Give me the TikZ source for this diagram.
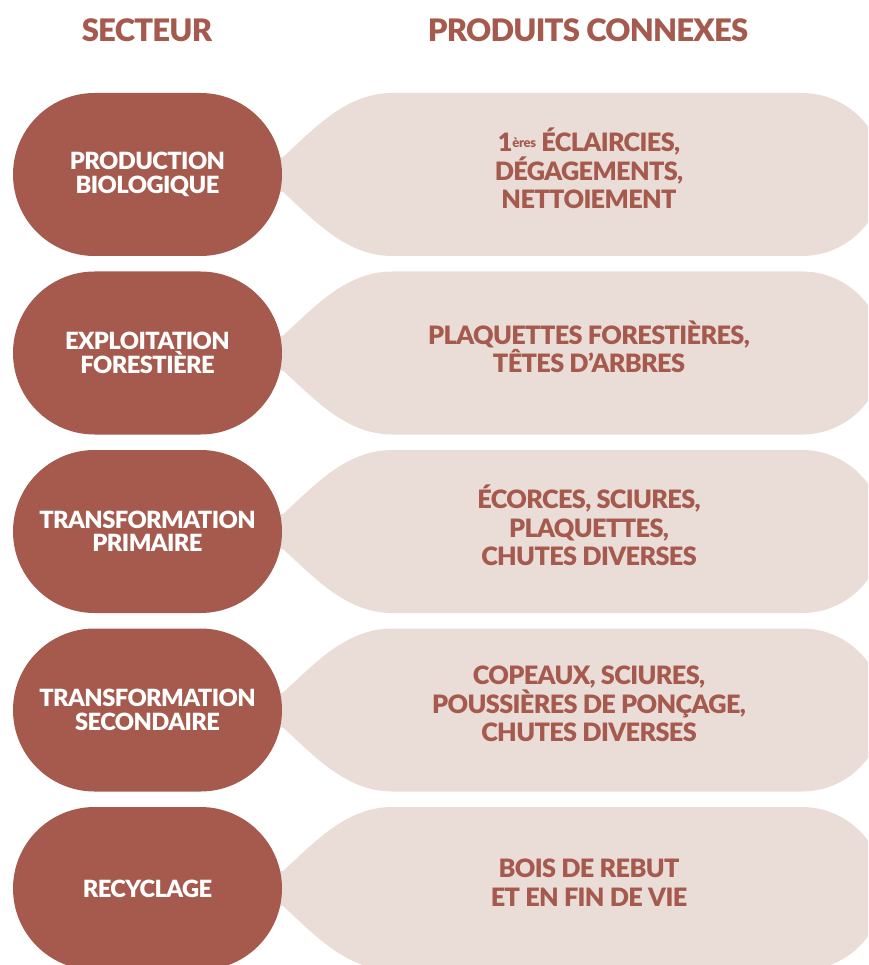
\documentclass[tikz,border=0pt]{standalone}
\usepackage{fontspec}
\setmainfont{Lato}[LetterSpace=-2.5,BoldFont={Lato Black}]
\definecolor{dark}{HTML}{A55A4D}
\definecolor{light}{HTML}{EADDD7}
\tikzset{
  pill/.style={fill=dark, text=white, minimum width=269pt, minimum height=163pt,
    rounded corners=81.5pt, inner sep=0pt, align=center,
    font=\fontsize{23.7}{23.5}\selectfont\bfseries},
  prod/.style={text=dark, align=center, inner sep=0pt,
    font=\fontsize{25.3}{28.5}\selectfont\bfseries},
  head/.style={text=dark, inner sep=0pt, font=\fontsize{31}{31}\selectfont\bfseries},
}
\newcommand{\bubble}[1]{%
  \fill[light] (270,#1+64) -- (283,#1+64) .. controls (312,#1+38) and (345,#1) .. (392,#1)
    -- (802,#1) arc[start angle=-90,end angle=90,radius=81.5] -- (392,#1+163)
    .. controls (345,#1+163) and (312,#1+125) .. (283,#1+99) -- (270,#1+99) -- cycle;}
\begin{document}
\begin{tikzpicture}[x=1pt,y=-1pt]
\useasboundingbox (0,0) rectangle (868,965);
\clip (0,0) rectangle (868,965);
\node[head] (h1) at (147,30) {SECTEUR};
\node[head] (h2) at (588,30) {PRODUITS CONNEXES};
% rows
\bubble{93}
\bubble{271.5}
\bubble{450}
\bubble{628.5}
\bubble{807}
\node[pill] (s1) at (147.5,174.5) {PRODUCTION\\BIOLOGIQUE};
\node[pill] (s2) at (147.5,353) {EXPLOITATION\\FORESTIÈRE};
\node[pill] (s3) at (147.5,531.5) {TRANSFORMATION\\PRIMAIRE};
\node[pill] (s4) at (147.5,710) {TRANSFORMATION\\SECONDAIRE};
\node[pill] (s5) at (147.5,888.5) {RECYCLAGE};
\node[prod] (p1) at (589,168.5) {1\raisebox{4pt}{\fontsize{13}{13}\selectfont ères} ÉCLAIRCIES,\\DÉGAGEMENTS,\\NETTOIEMENT};
\node[prod] (p2) at (589,347) {PLAQUETTES FORESTIÈRES,\\TÊTES D’ARBRES};
\node[prod] (p3) at (589,525.5) {ÉCORCES, SCIURES,\\PLAQUETTES,\\CHUTES DIVERSES};
\node[prod] (p4) at (589,704) {COPEAUX, SCIURES,\\POUSSIÈRES DE PONÇAGE,\\CHUTES DIVERSES};
\node[prod] (p5) at (589,882.5) {BOIS DE REBUT\\ET EN FIN DE VIE};
\end{tikzpicture}
\end{document}
